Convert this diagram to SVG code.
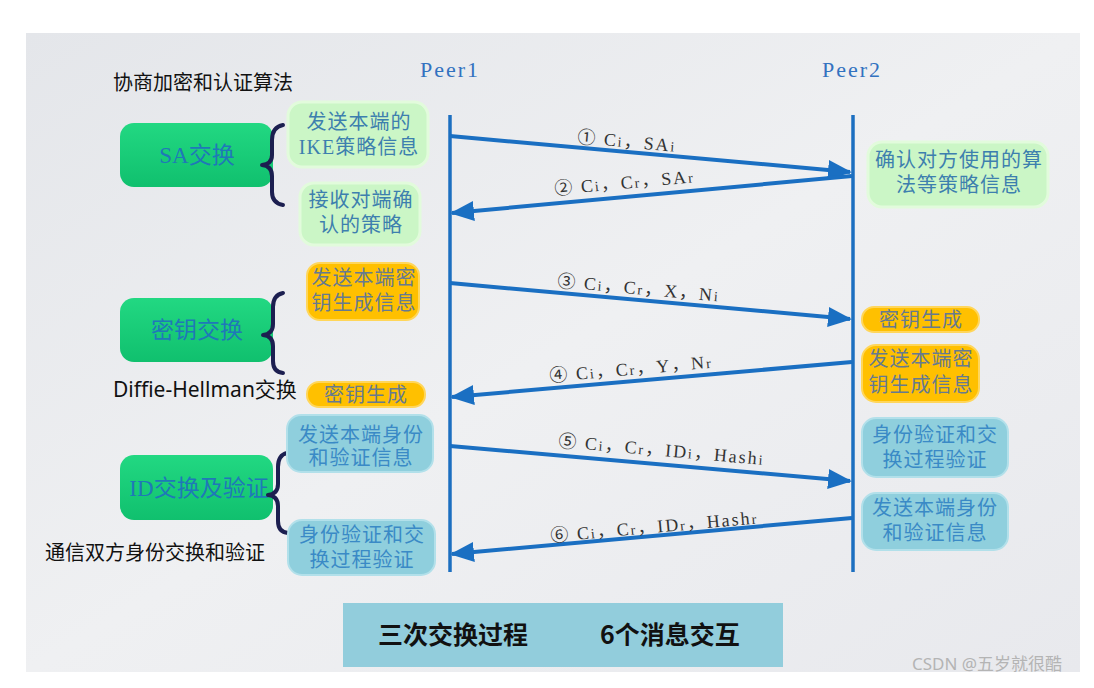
<svg xmlns="http://www.w3.org/2000/svg" width="1094" height="688" viewBox="0 0 1094 688">
<style>
.cap{font-family:"Noto Sans","Noto Sans CJK SC",sans-serif;font-size:20px;fill:#111}
.peer{font-family:"Liberation Serif","Noto Sans CJK SC",serif;font-size:22px;fill:#3272c0;letter-spacing:2px}
.big{font-family:"Liberation Serif","Noto Sans CJK SC",serif;font-size:23px;fill:#1f78b8;text-anchor:middle}
.bx{font-family:"Liberation Serif","Noto Sans CJK SC",serif;font-size:20px;text-anchor:middle;letter-spacing:1px}
.tg{fill:#3d7fae}.to{fill:#667a90}.tb{fill:#3a8ac6}
.gr{fill:#17cc78}.lg{fill:#cbf6c6;stroke:#e2fbdc;stroke-width:3}.og{fill:#ffc000;stroke:#ffd65a;stroke-width:2}.lb{fill:#8fcfdd;stroke:#b2e0ea;stroke-width:2}
.brace{fill:none;stroke:#1c1f50;stroke-width:4;stroke-linecap:round;stroke-linejoin:round}
.life{stroke:#1c6fc0;stroke-width:3.5}
.msg{stroke:#1a6fc2;stroke-width:4;fill:none;marker-end:url(#ah)}
.lbl{font-family:"Liberation Serif","Noto Sans CJK SC",serif;font-size:18px;fill:#333;letter-spacing:2px}
.s{font-size:14px}
.sum{font-family:"Noto Sans CJK SC",sans-serif;font-size:25px;font-weight:700;fill:#111}
</style>
<defs>
<linearGradient id="bg" x1="0" y1="0" x2="1" y2="1">
<stop offset="0" stop-color="#e4e6ea"/><stop offset="0.5" stop-color="#eff0f2"/><stop offset="1" stop-color="#e8e9ed"/>
</linearGradient>
<linearGradient id="gg" x1="0" y1="0" x2="0" y2="1">
<stop offset="0" stop-color="#22d882"/><stop offset="1" stop-color="#10c06e"/>
</linearGradient>
<marker id="ah" markerWidth="6" markerHeight="5" refX="5.5" refY="2.5" orient="auto" markerUnits="strokeWidth">
<path d="M0,0 L6,2.5 L0,5 Z" fill="#1a6fc2"/>
</marker>
</defs>
<rect width="1094" height="688" fill="#ffffff"/>
<rect x="26" y="33" width="1054" height="639" fill="url(#bg)"/>

<g id="captions">
<text class="cap" x="113" y="90">协商加密和认证算法</text>
<text class="cap" x="113" y="397" style="font-size:21px">Diffie-Hellman交换</text>
<text class="cap" x="45" y="560">通信双方身份交换和验证</text>
</g>

<g id="peer1"><text class="peer" x="420" y="77">Peer1</text></g>
<g id="peer2"><text class="peer" x="822" y="77">Peer2</text></g>

<g id="sa-exchange">
<rect x="120" y="123" width="153" height="64" rx="14" fill="url(#gg)"/>
<text class="big" x="197" y="163">SA交换</text>
<path class="brace" d="M283,125 Q272,127 272,140 L272,155 Q272,164 262,165 Q272,166 272,176 L272,192 Q272,203 283,205"/>
</g>
<g id="key-exchange">
<rect x="120" y="298" width="153" height="64" rx="14" fill="url(#gg)"/>
<text class="big" x="197" y="338">密钥交换</text>
<path class="brace" d="M283,293 Q273,295 273,307 L273,324 Q273,334 263,335 Q273,336 273,346 L273,361 Q273,372 283,373"/>
</g>
<g id="id-exchange">
<rect x="120" y="455" width="153" height="65" rx="14" fill="url(#gg)"/>
<text class="big" x="199" y="496" style="letter-spacing:0px">ID交换及验证</text>
<path class="brace" d="M287,453 Q278,455 278,467 L278,484 Q278,494 268,495 Q278,496 278,506 L278,521 Q278,532 288,533"/>
</g>

<g id="p1-send-ike">
<rect class="lg" x="288" y="102" width="140" height="65" rx="14"/>
<text class="bx tg" x="359" y="129">发送本端的</text>
<text class="bx tg" x="359" y="154">IKE策略信息</text>
</g>
<g id="p1-recv-policy">
<rect class="lg" x="300" y="183" width="120" height="62" rx="14"/>
<text class="bx tg" x="361" y="207">接收对端确</text>
<text class="bx tg" x="361" y="232">认的策略</text>
</g>
<g id="p1-send-key">
<rect class="og" x="307" y="263" width="112" height="57" rx="13"/>
<text class="bx to" x="364" y="285">发送本端密</text>
<text class="bx to" x="364" y="310">钥生成信息</text>
</g>
<g id="p1-keygen">
<rect class="og" x="307" y="382" width="118" height="25" rx="12"/>
<text class="bx to" x="366" y="402">密钥生成</text>
</g>
<g id="p1-send-id">
<rect class="lb" x="287" y="415" width="146" height="57" rx="14"/>
<text class="bx tb" x="361" y="442">发送本端身份</text>
<text class="bx tb" x="361" y="465">和验证信息</text>
</g>
<g id="p1-verify">
<rect class="lb" x="288" y="520" width="147" height="55" rx="14"/>
<text class="bx tb" x="362" y="542">身份验证和交</text>
<text class="bx tb" x="362" y="567">换过程验证</text>
</g>

<g id="p2-confirm">
<rect class="lg" x="868" y="142" width="180" height="65" rx="14"/>
<text class="bx tg" x="959" y="167">确认对方使用的算</text>
<text class="bx tg" x="959" y="192">法等策略信息</text>
</g>
<g id="p2-keygen">
<rect class="og" x="862" y="307" width="117" height="25" rx="12"/>
<text class="bx to" x="921" y="327">密钥生成</text>
</g>
<g id="p2-send-key">
<rect class="og" x="862" y="345" width="117" height="57" rx="14"/>
<text class="bx to" x="921" y="366">发送本端密</text>
<text class="bx to" x="921" y="392">钥生成信息</text>
</g>
<g id="p2-verify">
<rect class="lb" x="862" y="418" width="146" height="59" rx="14"/>
<text class="bx tb" x="935" y="442">身份验证和交</text>
<text class="bx tb" x="935" y="467">换过程验证</text>
</g>
<g id="p2-send-id">
<rect class="lb" x="862" y="493" width="146" height="57" rx="14"/>
<text class="bx tb" x="935" y="515">发送本端身份</text>
<text class="bx tb" x="935" y="540">和验证信息</text>
</g>

<g id="connectors">
<line class="life" x1="450" y1="115" x2="450" y2="572"/>
<line class="life" x1="853" y1="115" x2="853" y2="572"/>
<line class="msg" x1="450" y1="136" x2="850" y2="172"/>
<line class="msg" x1="852" y1="176" x2="452" y2="213"/>
<line class="msg" x1="450" y1="283" x2="850" y2="319"/>
<line class="msg" x1="852" y1="362" x2="452" y2="397"/>
<line class="msg" x1="450" y1="446" x2="850" y2="481"/>
<line class="msg" x1="852" y1="518" x2="452" y2="554"/>
<text class="lbl" x="577" y="143" transform="rotate(5.1 577 143)">① C<tspan class="s">i</tspan>，SA<tspan class="s">i</tspan></text>
<text class="lbl" x="555" y="195" transform="rotate(-5.2 555 195)">② C<tspan class="s">i</tspan>，C<tspan class="s">r</tspan>，SA<tspan class="s">r</tspan></text>
<text class="lbl" x="557" y="287" transform="rotate(5.1 557 287)">③ C<tspan class="s">i</tspan>，C<tspan class="s">r</tspan>，X，N<tspan class="s">i</tspan></text>
<text class="lbl" x="550" y="382" transform="rotate(-5 550 382)">④ C<tspan class="s">i</tspan>，C<tspan class="s">r</tspan>，Y，N<tspan class="s">r</tspan></text>
<text class="lbl" x="558" y="447" transform="rotate(5 558 447)">⑤ C<tspan class="s">i</tspan>，C<tspan class="s">r</tspan>，ID<tspan class="s">i</tspan>，Hash<tspan class="s">i</tspan></text>
<text class="lbl" x="551" y="542" transform="rotate(-5.1 551 542)">⑥ C<tspan class="s">i</tspan>，C<tspan class="s">r</tspan>，ID<tspan class="s">r</tspan>，Hash<tspan class="s">r</tspan></text>
</g>

<g id="summary">
<rect x="343" y="603" width="440" height="64" fill="#92cddc"/>
<text class="sum" x="378" y="644">三次交换过程</text>
<text class="sum" x="600" y="644">6个消息交互</text>
</g>

<text x="912" y="670" style="font-family:'Noto Sans','Noto Sans CJK SC',sans-serif;font-size:17px;fill:#b4b4b4">CSDN @五岁就很酷</text>
</svg>
